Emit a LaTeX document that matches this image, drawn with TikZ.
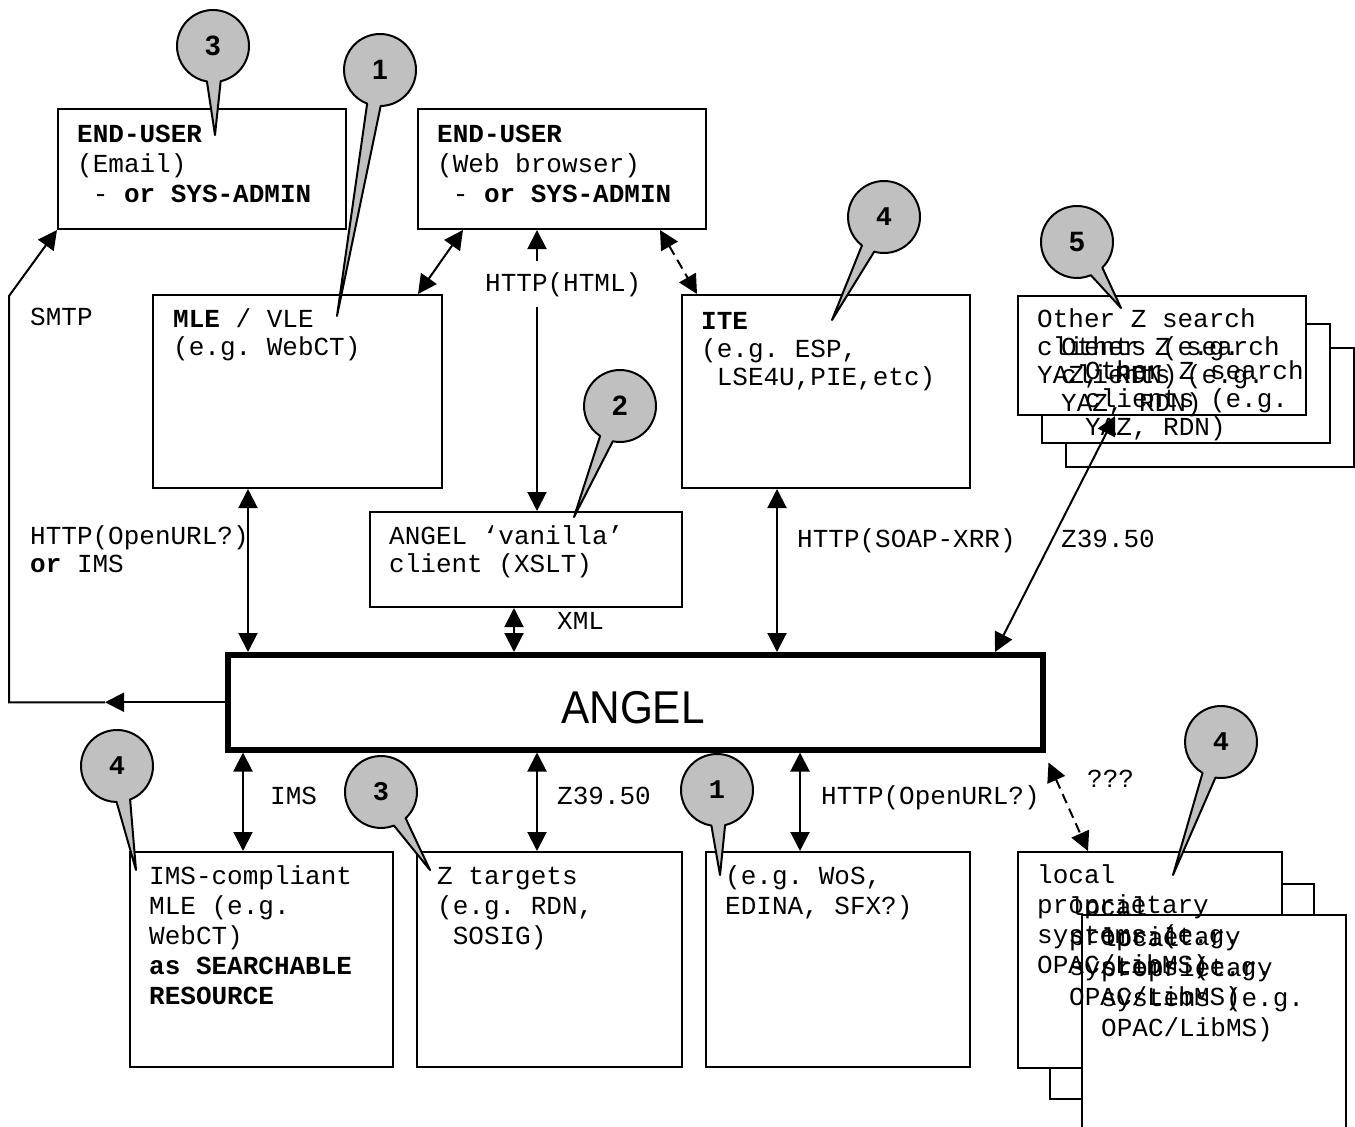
\documentclass[tikz,border=0pt]{standalone}
\usepackage{fontspec}
\usepackage{graphicx}
\usetikzlibrary{arrows.meta,calc}
\newfontfamily\monofam{Liberation Mono}
\newfontfamily\sansfam{Liberation Sans}
\definecolor{callgray}{HTML}{C0C0C0}
\frenchspacing

\tikzset{
  box/.style={draw, line width=2pt, fill=white, anchor=north west, inner sep=0pt},
  txt/.style={anchor=north west, inner sep=0pt, align=left,
    font=\monofam\frenchspacing\fontsize{26}{30}\selectfont},
  txtn/.style={anchor=north west, inner sep=0pt, align=left,
    font=\monofam\frenchspacing\fontsize{26}{28}\selectfont},
  lbl/.style={anchor=base west, inner sep=0pt, font=\monofam\frenchspacing\fontsize{26}{30}\selectfont},
  conn/.style={line width=2pt},
  tip/.tip={Triangle[length=19pt,width=19pt]},
  dbl/.style={conn, tip-tip},
  dsh/.style={dash pattern=on 10pt off 6pt},
  calloutline/.style={fill=callgray, draw=black, line width=2pt, line join=round},
  numsans/.style={inner sep=0pt, font=\sansfam\bfseries\fontsize{28}{28}\selectfont},
  nummono/.style={inner sep=0pt, font=\monofam\bfseries\fontsize{27}{27}\selectfont},
}

% numbered balloon: name, centre, tip of the tail, number style, number
\newcommand\callout[5]{%
  \coordinate (#1-c) at (#2);
  \coordinate (#1-t) at (#3);
  \path[calloutline] let \p1=($(#1-t)-(#1-c)$), \n1={atan2(\y1,\x1)} in
    ($(#1-c)+(\n1+11:36pt)$) arc[start angle=\n1+11, end angle=\n1+349, radius=36pt]
    -- (#1-t) -- cycle;
  \node[#4] (#1) at (#1-c) {#5};
}

\begin{document}
\begin{tikzpicture}[x=1pt,y=-1pt]
\fill[white] (0,0) rectangle (1355,1127);
\useasboundingbox (0,0) rectangle (1355,1127);

% ---- boxes ----
\node[box, minimum width=288pt, minimum height=120pt] (email) at (57,108) {};
\node[box, minimum width=288pt, minimum height=120pt] (web) at (417,108) {};
\node[box, minimum width=289pt, minimum height=193pt] (mle) at (152,294) {};
\node[box, minimum width=288pt, minimum height=193pt] (ite) at (681,294) {};
\node[box, minimum width=312pt, minimum height=95pt] (van) at (369,511) {};
\node[box, line width=5.5pt, minimum width=815pt, minimum height=95pt] (angel) at (225,652) {};
\node[box, minimum width=263pt, minimum height=215pt] (ims) at (129,851) {};
\node[box, minimum width=265pt, minimum height=215pt] (zt) at (416,851) {};
\node[box, minimum width=264pt, minimum height=215pt] (wos) at (705,851) {};
% stacked Z search clients
\node[box, minimum width=288pt, minimum height=119pt] (zc3) at (1065,347) {};
\node[box, minimum width=288pt, minimum height=119pt] (zc2) at (1041,323) {};
\node[box, minimum width=288pt, minimum height=119pt] (zc1) at (1017,295) {};
% stacked local systems
\node[box, minimum width=264pt, minimum height=215pt] (loc2) at (1049,883) {};
\node[box, minimum width=264pt, minimum height=216pt] (loc1) at (1017,851) {};
\node[box, minimum width=264pt, minimum height=216pt] (loc3) at (1081,914) {};

% ---- box texts ----
\node[txt] (tEmail) at (77,121) {\strut\textbf{END-USER}\\(Email)\\\ - \textbf{or SYS-ADMIN}};
\node[txt] (tWeb) at (437,121) {\strut\textbf{END-USER}\\(Web browser)\\\ - \textbf{or SYS-ADMIN}};
\node[txtn] (tMle) at (173,307.4) {\strut\textbf{MLE} / VLE\\(e.g. WebCT)};
\node[txtn] (tIte) at (701,309.4) {\strut\textbf{ITE}\\(e.g. ESP,\\\ LSE4U,PIE,etc)};
\node[txtn] (tVan) at (389,524.4) {\strut ANGEL ‘vanilla’\\client (XSLT)};
\node[txt] (tIms) at (149,863) {\strut IMS-compliant\\MLE (e.g.\\WebCT)\\\textbf{as SEARCHABLE}\\\textbf{RESOURCE}};
\node[txt] (tZt) at (437,863) {\strut Z targets\\(e.g. RDN,\\\ SOSIG)};
\node[txt] (tWos) at (725,863) {\strut(e.g. WoS,\\EDINA, SFX?)};
\node[txtn] (tZc1) at (1037,307.4) {\strut Other Z search\\clients (e.g.\\YAZ, RDN)};
\node[txtn] (tZc2) at (1061,335.4) {\strut Other Z search\\clients (e.g.\\YAZ, RDN)};
\node[txtn] (tZc3) at (1085,359.4) {\strut Other Z search\\clients (e.g.\\YAZ, RDN)};
\node[txt] (tLoc1) at (1037,862) {\strut local\\proprietary\\systems (e.g.\\OPAC/LibMS)};
\node[txt] (tLoc2) at (1069,894) {\strut local\\proprietary\\systems (e.g.\\OPAC/LibMS)};
\node[txt] (tLoc3) at (1101,925) {\strut local\\proprietary\\systems (e.g.\\OPAC/LibMS)};
\node (angeltxt) at (633,708) {\sansfam\fontsize{46}{46}\selectfont\scalebox{0.92}[1]{ANGEL}};

% ---- connectors ----
\draw[dbl] (463,0 |- web.south) -- (418,0 |- mle.north);
\draw[dbl] (537,0 |- web.south) -- (537,0 |- van.north);
\draw[dbl, dsh] (660,0 |- web.south) -- (697,0 |- ite.north);
\draw[dbl] (248,0 |- mle.south) -- (248,0 |- angel.north);
\draw[dbl] (514,0 |- van.south) -- (514,0 |- angel.north);
\draw[dbl] (777,0 |- ite.south) -- (777,0 |- angel.north);
\draw[dbl] (1115,0 |- zc1.south) -- (995,0 |- angel.north);
\draw[dbl] (243,0 |- angel.south) -- (243,0 |- ims.north);
\draw[dbl] (537,0 |- angel.south) -- (537,0 |- zt.north);
\draw[dbl] (800,0 |- angel.south) -- (800,0 |- wos.north);
\draw[dbl, dsh] ([shift={(3,10)}]angel.south east) -- (1088,0 |- loc1.north);
% mail route round the left side
\coordinate (smtpmid) at (105,0 |- angel.west);
\coordinate (smtpcorner) at (9,0 |- angel.west);
\coordinate (smtpbend) at (9,296);
\draw[conn, -tip] (angel.west) -- (smtpmid);
\draw[conn, -tip] (smtpmid) -- (smtpcorner) -- (smtpbend) -- (email.south west);

% ---- connector labels ----
\node[lbl] (lSmtp) at (30,325) {SMTP};
\node[txtn] (lOpenL) at (30,524.4) {\strut HTTP(OpenURL?)\\\textbf{or} IMS};
\node[lbl, fill=white, inner ysep=11pt] (lHtml) at (485,291) {HTTP(HTML)};
\node[lbl] (lXml) at (557,629) {XML};
\node[lbl] (lSoap) at (797,547) {HTTP(SOAP-XRR)};
\node[lbl] (lZr) at (1061,547) {Z39.50};
\node[lbl] (lIms) at (270,804) {IMS};
\node[lbl] (lZb) at (557,804) {Z39.50};
\node[lbl] (lOpenB) at (821,804) {HTTP(OpenURL?)};
\node[lbl] (lQ) at (1087,787) {???};

% ---- numbered balloons ----
\callout{cA}{213,46}{215,135}{numsans}{3}
\callout{cB}{380,70}{337,316}{numsans}{1}
\callout{cC}{620,406}{574,517}{numsans}{2}
\callout{cD}{884,217}{832,320}{nummono}{4}
\callout{cE}{1077,242}{1121,308}{numsans}{5}
\callout{cF}{117,766}{136,870}{nummono}{4}
\callout{cG}{381,792}{430,870}{nummono}{3}
\callout{cH}{717,790}{720,875}{nummono}{1}
\callout{cI}{1221,742}{1173,875}{nummono}{4}
\end{tikzpicture}
\end{document}
